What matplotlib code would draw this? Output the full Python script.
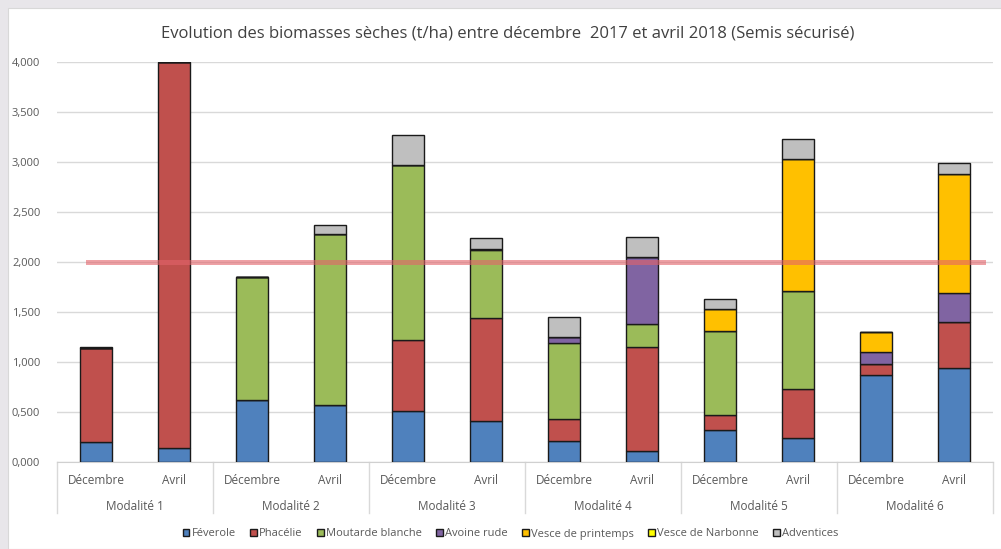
import numpy as np
import matplotlib.pyplot as plt
from matplotlib.patches import Rectangle, Patch
from matplotlib.lines import Line2D

plt.rcParams['font.family'] = ['Liberation Sans Narrow', 'Open Sans', 'DejaVu Sans']

# biomasse sèche (t/ha), une valeur par barre : Déc / Avril pour chaque modalité
modalites = ["Modalité 1", "Modalité 2", "Modalité 3", "Modalité 4", "Modalité 5", "Modalité 6"]
periodes = ["Décembre", "Avril"]

feverole = [0.20, 0.14, 0.62, 0.57, 0.51, 0.41, 0.21, 0.11, 0.32, 0.24, 0.87, 0.94]
phacelie = [0.94, 3.86, 0.00, 0.00, 0.71, 1.03, 0.22, 1.04, 0.15, 0.49, 0.11, 0.46]
moutarde = [0.00, 0.00, 1.23, 1.71, 1.75, 0.68, 0.76, 0.23, 0.84, 0.98, 0.00, 0.00]
avoine = [0.00, 0.00, 0.00, 0.00, 0.00, 0.01, 0.06, 0.67, 0.00, 0.00, 0.12, 0.29]
vesce_printemps = [0.00, 0.00, 0.00, 0.00, 0.00, 0.00, 0.00, 0.00, 0.22, 1.32, 0.20, 1.19]
vesce_narbonne = [0.00] * 12
adventices = [0.01, 0.00, 0.00, 0.09, 0.30, 0.11, 0.20, 0.20, 0.10, 0.20, 0.00, 0.11]

seuil = 2.0

series = [
    ("Féverole", feverole, "#4F81BD"),
    ("Phacélie", phacelie, "#C0504D"),
    ("Moutarde blanche", moutarde, "#9BBB59"),
    ("Avoine rude", avoine, "#8064A2"),
    ("Vesce de printemps", vesce_printemps, "#FFC000"),
    ("Vesce de Narbonne", vesce_narbonne, "#FFFF00"),
    ("Adventices", adventices, "#BFBFBF"),
]

fig = plt.figure(figsize=(10.01, 5.49), dpi=100, facecolor="#e8e6ea")
fig.patches.append(Rectangle((8 / 1001, 0), 1, 1 - 8 / 549, transform=fig.transFigure,
                             facecolor="white", edgecolor="#d8d8d8", lw=0.8, zorder=-1))

ax = fig.add_axes([57 / 1001, 1 - 462 / 549, 936 / 1001, 400 / 549])
ax.set_facecolor("none")
ax.set_zorder(1)

x = np.arange(len(modalites) * len(periodes))
bottom = np.zeros(len(x))
for name, vals, color in series:
    vals = np.array(vals)
    ax.bar(x, vals, bottom=bottom, width=0.41, color=color, edgecolor="#1a1a1a",
           linewidth=1.0, zorder=3)
    bottom += vals

ax.set_xlim(-0.5, len(x) - 0.5)
ax.set_ylim(0, 4.0)
ax.set_yticks(np.arange(0, 4.01, 0.5))
ax.set_yticklabels([f"{v:.3f}".replace(".", ",") for v in np.arange(0, 4.01, 0.5)])
ax.tick_params(axis="y", length=0, pad=12, labelsize=8, labelcolor="#595959")
ax.set_xticks([])
ax.grid(axis="y", color="#d9d9d9", lw=1.0, zorder=0)
for s in ["left", "right", "top"]:
    ax.spines[s].set_visible(False)
ax.spines["bottom"].set_color("#d0d0d0")

# ligne de seuil à 2 t/ha
ax.axhline(seuil, xmin=0.033, xmax=0.989, color="#e3636a", alpha=0.6, lw=3.6, zorder=4)

# étiquettes à deux niveaux sous l'axe
trans = ax.get_xaxis_transform()
for i, xi in enumerate(x):
    ax.text(xi, -0.045, periodes[i % 2], transform=trans, ha="center", va="center",
            fontsize=8.5, color="#595959")
for g, nom in enumerate(modalites):
    ax.text(2 * g + 0.5, -0.112, nom, transform=trans, ha="center", va="center",
            fontsize=8.5, color="#595959")
for b in np.arange(-0.5, len(x), 2):
    ax.add_line(Line2D([b, b], [0, -0.128], transform=trans, color="#d9d9d9",
                       lw=1.0, clip_on=False))

fig.text(0.507, 1 - 33 / 549,
         "Evolution des biomasses sèches (t/ha) entre décembre  2017 et avril 2018 (Semis sécurisé)",
         ha="center", va="center", fontsize=12, color="#404040")

handles = [Patch(facecolor=c, edgecolor="#1a1a1a", lw=1.0, label=n) for n, _, c in series]
fig.legend(handles=handles, loc="center", bbox_to_anchor=(0.51, 1 - 534 / 549), ncol=7,
           frameon=False, fontsize=8, handlelength=0.6, handleheight=0.6,
           handletextpad=0.2, columnspacing=1.3, labelcolor="#595959")

fig.savefig("out.png", dpi=100, facecolor=fig.get_facecolor())
